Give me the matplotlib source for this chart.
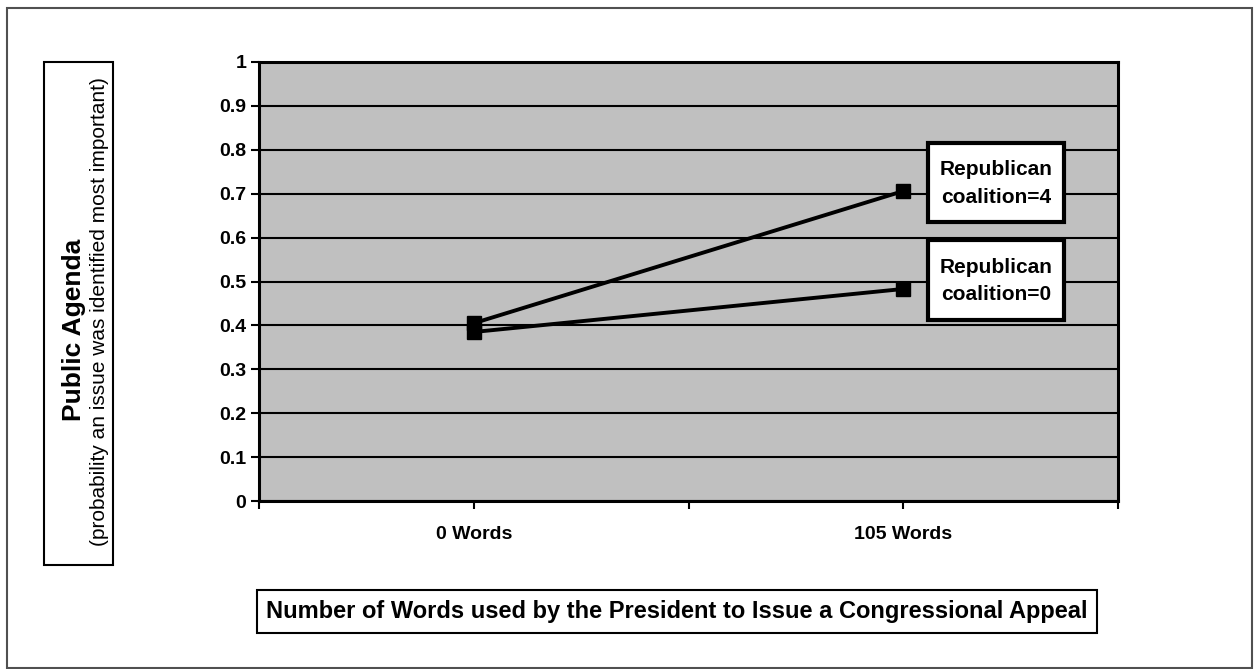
import matplotlib
matplotlib.use("Agg")
import matplotlib.pyplot as plt
from matplotlib.patches import Rectangle

plt.rcParams['font.family'] = ['Liberation Sans', 'DejaVu Sans']

# Data
categories = ['0 Words', '105 Words']
coalition_levels = [4, 0]
rep4_values = [0.405, 0.706]
rep0_values = [0.385, 0.483]
y_ticks = [0, 0.1, 0.2, 0.3, 0.4, 0.5, 0.6, 0.7, 0.8, 0.9, 1]
y_tick_labels = ['0', '0.1', '0.2', '0.3', '0.4', '0.5', '0.6', '0.7', '0.8', '0.9', '1']

W, H = 1254, 669
fig = plt.figure(figsize=(W / 100, H / 100), dpi=100)
fig.patch.set_facecolor('white')


def fx(px):
    return px / W


def fy(py):
    return 1 - py / H


# Outer chart-area frame
fig.patches.append(Rectangle((fx(7), fy(668)), fx(1252) - fx(7), fy(8) - fy(668),
                             transform=fig.transFigure, facecolor='none',
                             edgecolor='#505050', linewidth=1.5))

ax = fig.add_axes([fx(259), fy(501), fx(1118) - fx(259), fy(62) - fy(501)])
ax.set_facecolor('#C0C0C0')

x_pos = [1, 3]
for vals in (rep4_values, rep0_values):
    ax.plot(x_pos, vals, color='black', linewidth=2.8, marker='s',
            markersize=10, markerfacecolor='black', markeredgecolor='black',
            zorder=3)

ax.set_xlim(0, 4)
ax.set_ylim(0, 1)
ax.set_yticks(y_ticks, labels=y_tick_labels)
ax.set_xticks([0, 1, 2, 3, 4], labels=['', categories[0], '', categories[1], ''])
ax.yaxis.grid(True, color='black', linewidth=1.5)
ax.set_axisbelow(True)
for s in ax.spines.values():
    s.set_linewidth(2.2)
    s.set_color('black')
ax.tick_params(axis='both', direction='out', length=6, width=1.5, color='black')
ax.tick_params(axis='y', labelsize=14, pad=3)
ax.tick_params(axis='x', labelsize=14, pad=12)
for lbl in ax.get_xticklabels() + ax.get_yticklabels():
    lbl.set_fontweight('bold')

# Callout boxes for each series
box_specs = [(928, 143, 1064, 222), (928, 240, 1064, 320)]
for level, (x0, y0, x1, y1) in zip(coalition_levels, box_specs):
    fig.patches.append(Rectangle((fx(x0), fy(y1)), fx(x1) - fx(x0), fy(y0) - fy(y1),
                                 transform=fig.transFigure, facecolor='white',
                                 edgecolor='black', linewidth=3, zorder=5))
    fig.text(fx((x0 + x1) / 2), fy((y0 + y1) / 2 + 1), f'Republican\ncoalition={level}',
             ha='center', va='center', fontsize=15, fontweight='bold',
             linespacing=1.55, zorder=6)

# Y-axis title box
fig.patches.append(Rectangle((fx(44), fy(565)), fx(113) - fx(44), fy(62) - fy(565),
                             transform=fig.transFigure, facecolor='white',
                             edgecolor='black', linewidth=1.5))
fig.text(fx(74), fy(330), 'Public Agenda', rotation=90, ha='center', va='center',
         fontsize=19, fontweight='bold')
fig.text(fx(100), fy(312), '(probability an issue was identified most important)',
         rotation=90, ha='center', va='center', fontsize=15)

# X-axis title box
fig.patches.append(Rectangle((fx(257), fy(633)), fx(1097) - fx(257), fy(590) - fy(633),
                             transform=fig.transFigure, facecolor='white',
                             edgecolor='black', linewidth=1.5))
fig.text(fx(677), fy(611.5),
         'Number of Words used by the President to Issue a Congressional Appeal',
         ha='center', va='center', fontsize=17, fontweight='bold')

fig.savefig('out.png', dpi=100)
